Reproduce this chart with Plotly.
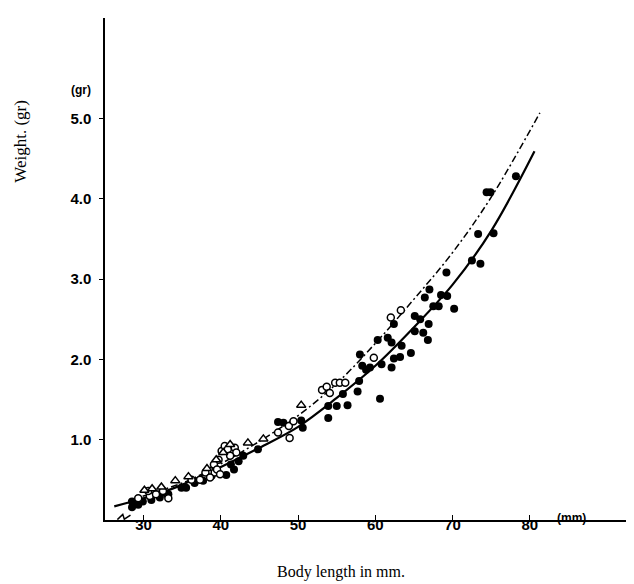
import plotly.graph_objects as go

# ---- data ----
# filled circles
filled_x = [78.2, 74.4, 74.9, 73.3, 75.3, 72.5, 73.6, 69.2, 67.0, 68.5, 69.3, 66.4,
            67.5, 68.2, 70.2, 65.1, 65.8, 66.9, 65.1, 66.2, 66.8, 62.4, 61.6, 60.3,
            62.1, 63.4, 64.6, 63.2, 62.4, 60.8, 62.1, 59.3, 58.8, 58.3, 58.0, 57.9,
            57.7, 55.8, 60.6, 53.9, 55.0, 56.4, 53.9, 50.4, 50.6, 47.4, 48.1, 44.8,
            42.9, 41.3, 41.7, 42.3, 40.7,
            28.5, 28.5, 29.3, 29.9, 31.0, 32.1, 33.2, 34.9, 36.6, 37.7, 38.8, 33.0, 35.5]
filled_y = [4.28, 4.08, 4.08, 3.56, 3.57, 3.23, 3.19, 3.08, 2.87, 2.80, 2.79, 2.77,
            2.66, 2.66, 2.63, 2.54, 2.50, 2.44, 2.35, 2.33, 2.24, 2.44, 2.27, 2.24,
            2.21, 2.17, 2.08, 2.03, 2.01, 1.94, 1.90, 1.90, 1.87, 1.92, 2.06, 1.73,
            1.60, 1.57, 1.51, 1.42, 1.42, 1.43, 1.27, 1.24, 1.15, 1.22, 1.21, 0.88,
            0.80, 0.69, 0.63, 0.73, 0.56,
            0.16, 0.23, 0.19, 0.23, 0.25, 0.28, 0.32, 0.40, 0.46, 0.49, 0.55, 0.32, 0.40]

# open circles
open_x = [30.8, 31.6, 30.6, 32.5, 33.2, 29.3, 36.2, 37.3, 38.6, 39.2,
          40.1, 40.5, 40.9, 41.8, 42.0, 41.2, 39.7, 39.1, 39.5, 38.0, 38.6, 39.9,
          47.4, 48.8, 49.4, 48.9, 53.1, 53.7, 54.1, 54.8, 55.4, 56.1, 59.8, 62.0, 63.3]
open_y = [0.30, 0.32, 0.36, 0.36, 0.27, 0.27, 0.50, 0.50, 0.61, 0.59,
          0.86, 0.92, 0.88, 0.90, 0.84, 0.80, 0.75, 0.69, 0.63, 0.59, 0.53, 0.57,
          1.09, 1.17, 1.23, 1.02, 1.62, 1.66, 1.58, 1.71, 1.71, 1.71, 2.02, 2.52, 2.61]

# open triangles
tri_x = [30.1, 31.1, 32.3, 34.1, 35.8, 38.2, 39.4, 40.3, 41.2, 43.5, 45.5, 50.4]
tri_y = [0.37, 0.39, 0.41, 0.49, 0.54, 0.64, 0.75, 0.84, 0.94, 0.96, 1.01, 1.43]

# solid fitted curve
solid_x = [26.2, 30, 34, 40, 45, 50, 55, 60, 65, 70, 75, 80.6]
solid_y = [0.17, 0.27, 0.40, 0.66, 0.90, 1.16, 1.52, 1.92, 2.40, 2.93, 3.60, 4.59]

# dash-dot fitted curve
dd_x = [28, 32, 36, 40, 45, 50, 55, 60, 65, 70, 75, 81.3]
dd_y = [0.24, 0.36, 0.50, 0.70, 0.98, 1.30, 1.70, 2.20, 2.75, 3.33, 4.02, 5.07]

x_ticks = [30, 40, 50, 60, 70, 80]
x_ticktext = ["30", "40", "50", "60", "70", "80"]
y_ticks = [1, 2, 3, 4, 5]
y_ticktext = ["1.0", "2.0", "3.0", "4.0", "5.0"]

fig = go.Figure()

fig.add_trace(go.Scatter(x=dd_x, y=dd_y, mode="lines", line_shape="spline",
                         line=dict(color="black", width=1.5, dash="7px,3px,2px,3px"),
                         hoverinfo="skip"))
fig.add_trace(go.Scatter(x=solid_x, y=solid_y, mode="lines", line_shape="spline",
                         line=dict(color="black", width=2.2), hoverinfo="skip"))
fig.add_trace(go.Scatter(x=filled_x, y=filled_y, mode="markers",
                         marker=dict(symbol="circle", size=8, color="black")))
fig.add_trace(go.Scatter(x=open_x, y=open_y, mode="markers",
                         marker=dict(symbol="circle", size=7, color="white",
                                     line=dict(color="black", width=1.5))))
fig.add_trace(go.Scatter(x=tri_x, y=tri_y, mode="markers",
                         marker=dict(symbol="triangle-up", size=8, color="white",
                                     line=dict(color="black", width=1.5))))

# axis break mark (small zigzag on the x axis)
fig.add_shape(type="path", xref="x", yref="y",
              path="M 26.6,0.005 L 27.3,0.07 L 27.5,0.01 L 28.3,0.06",
              line=dict(color="black", width=1.5))

fig.update_layout(
    width=634, height=584,
    margin=dict(l=97, r=4, t=10, b=72),
    paper_bgcolor="white", plot_bgcolor="white",
    showlegend=False,
    xaxis=dict(range=[25, 94], showgrid=False, zeroline=False,
               showline=True, linecolor="black", linewidth=1.5,
               ticks="inside", ticklen=5, tickwidth=1.2, tickcolor="black",
               tickvals=x_ticks, ticktext=x_ticktext, ticklabelstandoff=-10,
               tickfont=dict(family="Liberation Sans", size=15, color="black", weight=700)),
    yaxis=dict(range=[0, 6.25], showgrid=False, zeroline=False,
               showline=True, linecolor="black", linewidth=1.5,
               ticks="outside", ticklen=4, tickwidth=1.2, tickcolor="black",
               tickvals=y_ticks, ticktext=y_ticktext, ticklabelstandoff=5,
               tickfont=dict(family="Liberation Sans", size=15, color="black", weight=700)),
    annotations=[
        dict(text="Weight. (gr)", xref="paper", yref="paper", x=-0.158, y=0.755,
             xanchor="center", yanchor="middle", textangle=-90, showarrow=False,
             font=dict(family="Liberation Serif", size=17, color="black")),
        dict(text="Body length in mm.", xref="paper", yref="paper", x=0.443, y=-0.104,
             xanchor="center", yanchor="middle", showarrow=False,
             font=dict(family="Liberation Serif", size=16, color="black")),
        dict(text="(gr)", xref="paper", yref="paper", x=-0.045, y=0.856,
             xanchor="center", yanchor="middle", showarrow=False,
             font=dict(family="Liberation Sans", size=12, color="black", weight=700)),
        dict(text="(mm)", xref="paper", yref="paper", x=0.876, y=0.004,
             xanchor="center", yanchor="middle", showarrow=False,
             font=dict(family="Liberation Sans", size=12, color="black", weight=700)),
    ],
)

fig.write_html("out.html")
